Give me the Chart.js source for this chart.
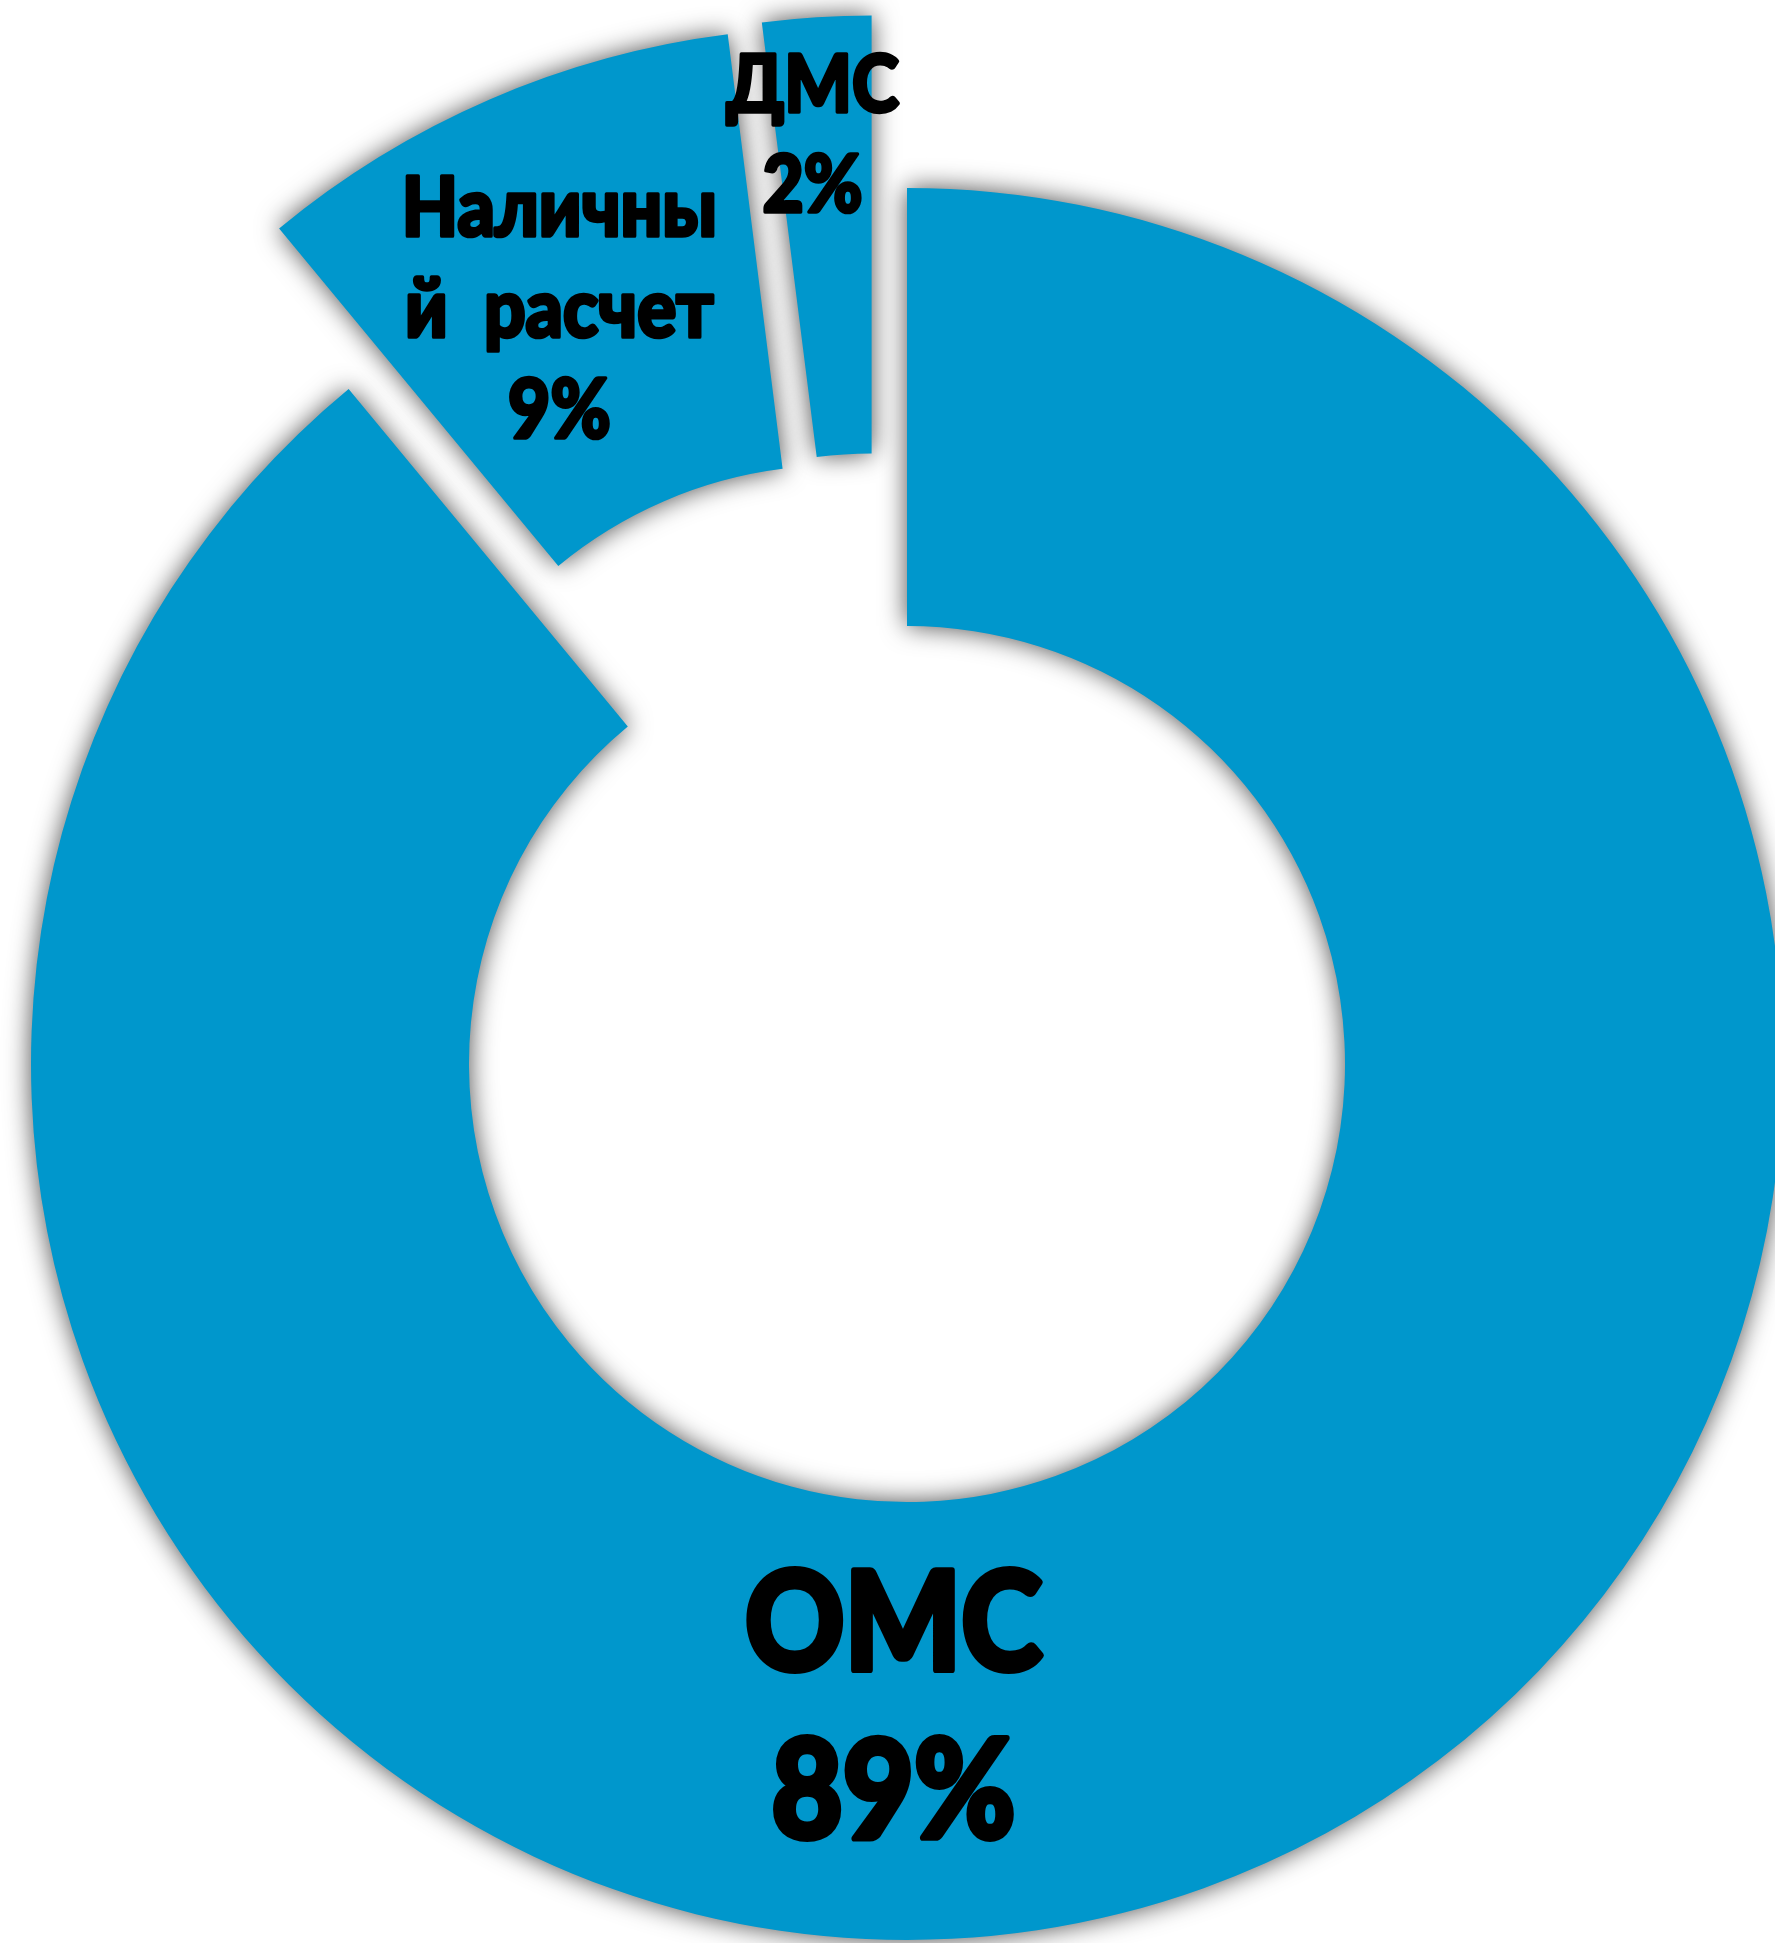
<!DOCTYPE html>
<html>
<head>
<meta charset="utf-8">
<script src="https://cdn.jsdelivr.net/npm/chart.js@4.4.1/dist/chart.umd.min.js"></script>
<style>
  html, body { margin: 0; padding: 0; background: #fff; }
  #chart { display: block; }
</style>
</head>
<body>
<canvas id="chart" width="1775" height="1943"></canvas>
<script>
// data
const categories = ["ОМС", "Наличный расчет", "ДМС"];
const shares = [89, 9, 2];
// label text as it wraps in the picture (percent is added from shares)
const labelLines = [["ОМС"], ["Наличны", "й расчет"], ["ДМС"]];

// exploded slices: distance in px and a small turn of the direction (deg)
const explodeDist = [0, 175, 176];
const explodeTurn = [0, 0, -8];

// label placement from the slice origin: turn from mid angle (deg), distance (px)
const labelTurn = [21, -1.6, -0.85];
const labelDist = [640, 658, 761];
const labelSize = [138, 82, 80];
const labelLead = [168, 101, 100];
const labelSquash = 0.89;

const deg = Math.PI / 180;

const explodePlugin = {
  id: 'explode',
  afterDatasetUpdate(chart, args) {
    args.meta.data.forEach((arc, i) => {
      const mid = (arc.startAngle + arc.endAngle) / 2 + explodeTurn[i] * deg;
      arc.x += Math.cos(mid) * explodeDist[i];
      arc.y += Math.sin(mid) * explodeDist[i];
    });
  }
};

// soft grey glow around the ring
const glowPlugin = {
  id: 'glow',
  beforeDatasetsDraw(chart) {
    const ctx = chart.ctx;
    ctx.save();
    ctx.shadowColor = 'rgba(0,0,0,0.7)';
    ctx.shadowBlur = 26;
  },
  afterDatasetsDraw(chart) {
    chart.ctx.restore();
  }
};

const labelPlugin = {
  id: 'sliceLabels',
  afterDatasetsDraw(chart) {
    const ctx = chart.ctx;
    const arcs = chart.getDatasetMeta(0).data;
    ctx.save();
    ctx.fillStyle = '#000';
    ctx.strokeStyle = '#000';
    ctx.lineJoin = 'round';
    ctx.textAlign = 'center';
    ctx.textBaseline = 'alphabetic';
    arcs.forEach((arc, i) => {
      const a = (arc.startAngle + arc.endAngle) / 2 + labelTurn[i] * deg;
      const cx = arc.x + Math.cos(a) * labelDist[i];
      const cy = arc.y + Math.sin(a) * labelDist[i];
      const size = labelSize[i];
      const cap = size * 0.72 + size * 0.045;
      const lines = labelLines[i].concat(shares[i] + '%');
      const lead = labelLead[i];
      let y = cy - ((lines.length - 1) * lead + cap) / 2 + cap - size * 0.022;
      ctx.font = `900 ${size}px Lato, Inter, "DejaVu Sans"`;
      ctx.wordSpacing = Math.round(size * 0.25) + 'px';
      ctx.lineWidth = size * 0.045;
      lines.forEach(line => {
        const w = ctx.measureText(line).width * labelSquash;
        ctx.fillText(line, cx, y, w);
        ctx.strokeText(line, cx, y, w);
        y += lead;
      });
    });
    ctx.restore();
  }
};

new Chart(document.getElementById('chart'), {
  type: 'doughnut',
  data: {
    labels: categories,
    datasets: [{
      data: shares,
      backgroundColor: '#0097cc',
      borderWidth: 0,
      clip: false
    }]
  },
  options: {
    responsive: false,
    animation: false,
    radius: 876,
    cutout: '50%',
    layout: { padding: { left: 39, top: 185, right: 0, bottom: 0 } },
    plugins: {
      legend: { display: false },
      tooltip: { enabled: false }
    }
  },
  plugins: [explodePlugin, glowPlugin, labelPlugin]
});
</script>
</body>
</html>
